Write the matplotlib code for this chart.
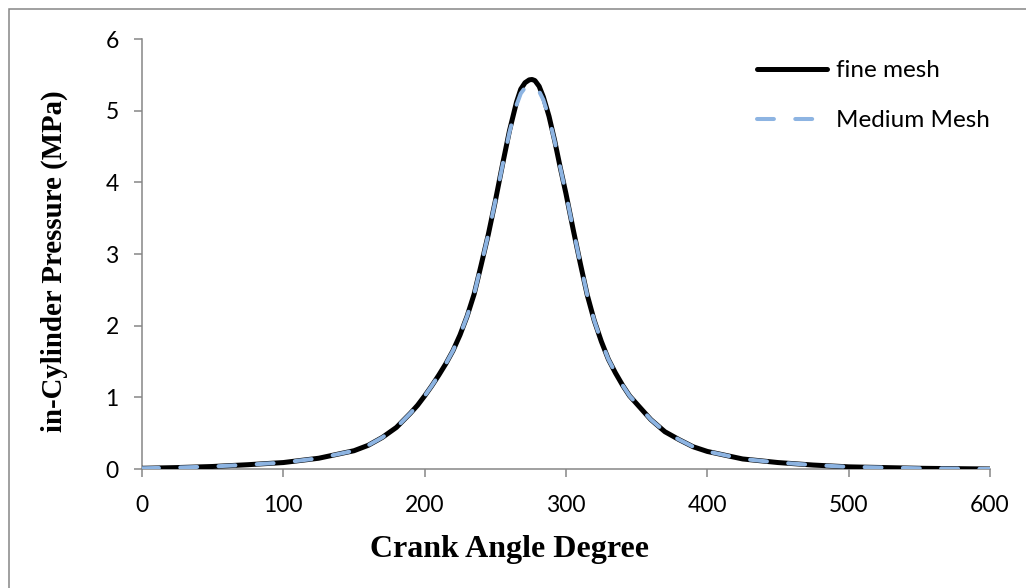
import matplotlib
matplotlib.use("Agg")
import matplotlib.pyplot as plt
from matplotlib.patches import Rectangle

crank_angle = [0, 25, 50, 75, 100, 125, 150, 160, 170, 180, 185, 190, 195, 200, 205,
               210, 215, 220, 225, 230, 235, 240, 245, 250, 255, 260, 265, 268, 271,
               274, 276, 278, 281, 284, 288, 292, 296, 300, 305, 310, 315, 320, 325,
               330, 335, 340, 345, 350, 355, 360, 370, 380, 390, 400, 425, 450, 475,
               500, 525, 550, 575, 600]
fine_mesh = [0.01, 0.02, 0.035, 0.06, 0.09, 0.15, 0.255, 0.33, 0.44, 0.58, 0.68, 0.78,
             0.89, 1.02, 1.16, 1.31, 1.47, 1.65, 1.87, 2.13, 2.44, 2.85, 3.27, 3.74,
             4.24, 4.72, 5.12, 5.30, 5.39, 5.43, 5.435, 5.42, 5.34, 5.19, 4.92, 4.58,
             4.20, 3.84, 3.35, 2.88, 2.43, 2.07, 1.78, 1.53, 1.34, 1.17, 1.02, 0.91,
             0.80, 0.69, 0.52, 0.41, 0.31, 0.245, 0.14, 0.09, 0.055, 0.03, 0.02, 0.01,
             0.005, 0.0]
medium_mesh = [0.01, 0.02, 0.035, 0.06, 0.09, 0.15, 0.255, 0.33, 0.44, 0.58, 0.68, 0.78,
               0.89, 1.02, 1.16, 1.31, 1.47, 1.65, 1.87, 2.13, 2.44, 2.85, 3.27, 3.74,
               4.23, 4.70, 5.08, 5.24, 5.32, 5.355, 5.36, 5.345, 5.27, 5.15, 4.90, 4.57,
               4.20, 3.84, 3.35, 2.88, 2.43, 2.07, 1.78, 1.53, 1.34, 1.17, 1.02, 0.91,
               0.80, 0.69, 0.52, 0.41, 0.31, 0.245, 0.14, 0.09, 0.055, 0.03, 0.02, 0.01,
               0.005, 0.0]
x_ticks = [0, 100, 200, 300, 400, 500, 600]
y_ticks = [0, 1, 2, 3, 4, 5, 6]
series_labels = ["fine mesh", "Medium Mesh"]

W, H = 1026, 588
fig = plt.figure(figsize=(W / 100, H / 100), dpi=100)
ax = fig.add_axes([142 / W, 1 - 469 / H, (990 - 142) / W, (469 - 39) / H])

tick_font = "Lato"
grey = "#868686"

ax.plot(crank_angle, fine_mesh, color="black", lw=3.6, solid_capstyle="round",
        solid_joinstyle="round", label=series_labels[0], zorder=3)
ax.plot(crank_angle, medium_mesh, color="#8DB4E2", lw=2.9, dash_capstyle="round",
        dash_joinstyle="round", dashes=(4.2, 5.3), label=series_labels[1], zorder=4)

ax.set_xlim(0, 600)
ax.set_ylim(0, 6)
ax.set_xticks(x_ticks)
ax.set_yticks(y_ticks)
for s in ["top", "right"]:
    ax.spines[s].set_visible(False)
for s in ["left", "bottom"]:
    ax.spines[s].set_color(grey)
    ax.spines[s].set_linewidth(1.1)
ax.tick_params(axis="both", direction="out", length=5.8, width=1.1, color=grey,
               labelsize=16.5, labelcolor="black")
ax.tick_params(axis="x", pad=13)
ax.tick_params(axis="y", pad=11)
for lab in ax.get_xticklabels() + ax.get_yticklabels():
    lab.set_fontfamily(tick_font)

fig.text(510 / W, 1 - 549 / H, "Crank Angle Degree", ha="center", va="center",
         fontfamily="Liberation Serif", fontweight="bold", fontsize=23)
fig.text(54 / W, 1 - 261 / H, "in-Cylinder Pressure (MPa)", ha="center", va="center",
         rotation=90, fontfamily="Liberation Serif", fontweight="bold", fontsize=20.8)

leg = ax.legend(loc="upper left", bbox_to_anchor=(757 / W, 1 - 60 / H),
                bbox_transform=fig.transFigure, frameon=False,
                prop={"family": tick_font, "size": 17.5},
                handlelength=2.9, handletextpad=0.33, labelspacing=1.2,
                borderaxespad=0, borderpad=0)

fig.patches.append(Rectangle((9 / W, -0.02), 1.05, 1 - 9 / H + 0.02,
                             transform=fig.transFigure, fill=False,
                             edgecolor=grey, lw=1.1))

fig.savefig("out.png", dpi=100)
